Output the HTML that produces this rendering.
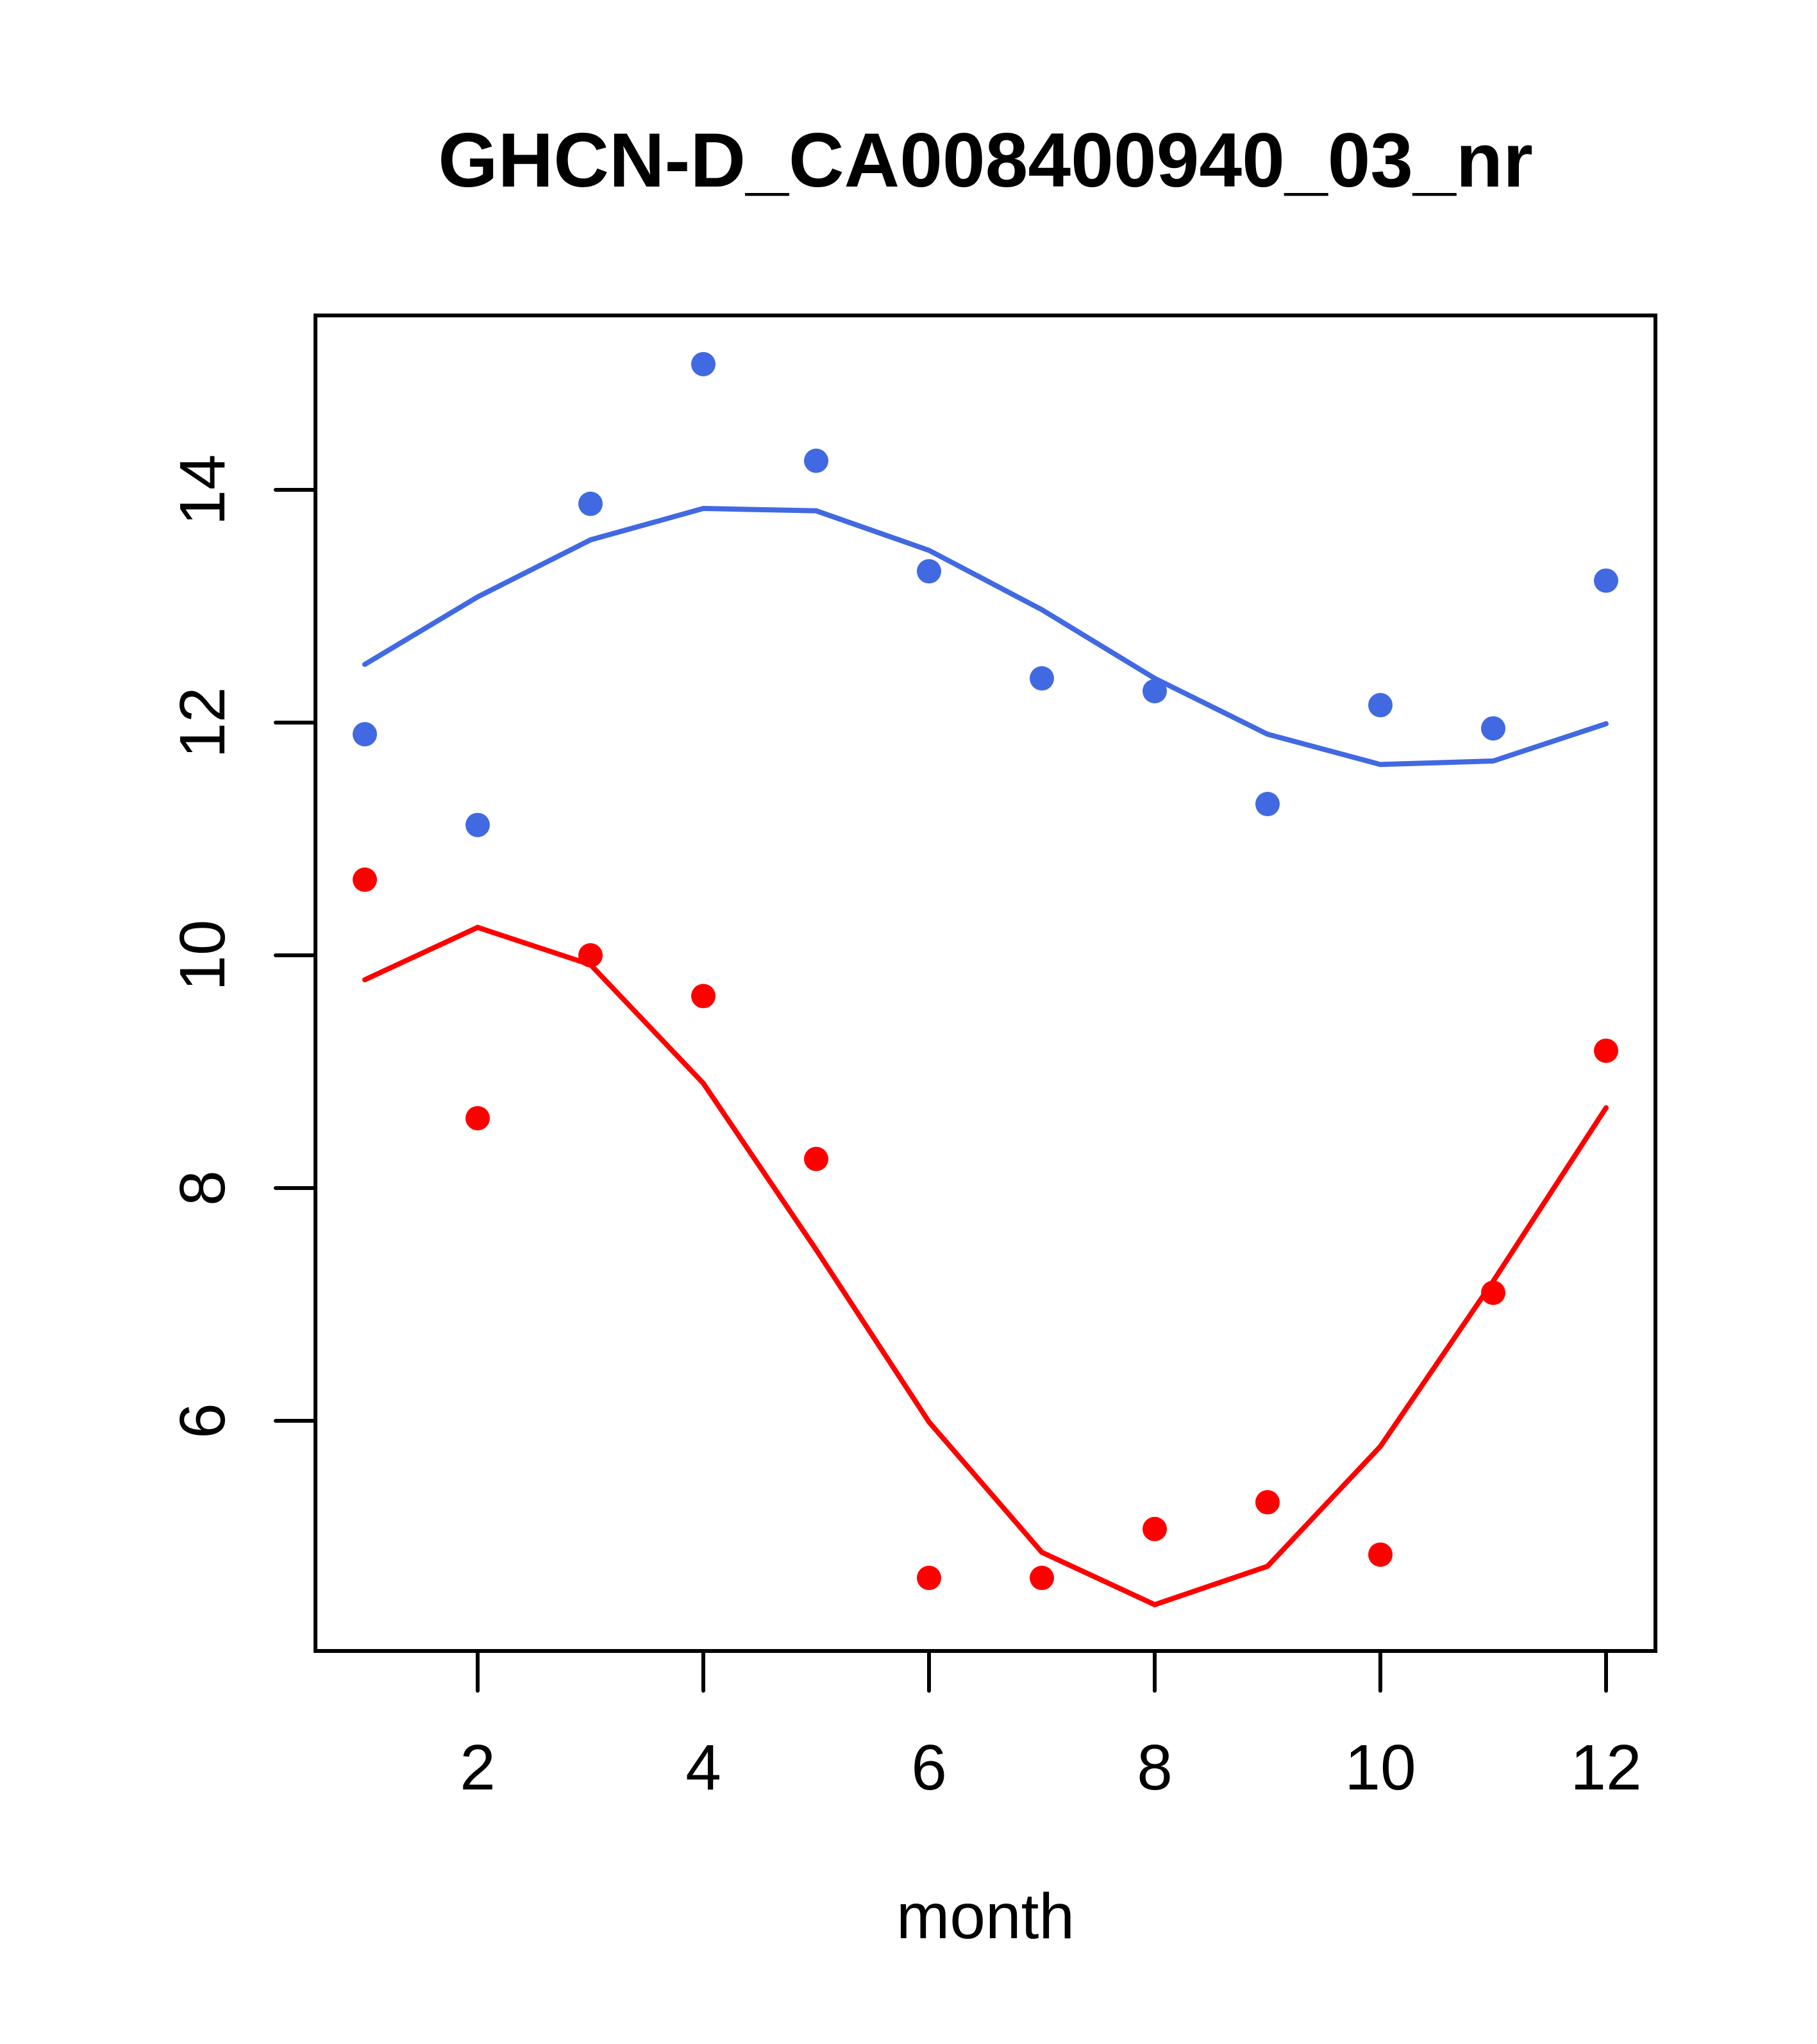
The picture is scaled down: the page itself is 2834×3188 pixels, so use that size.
<!DOCTYPE html>
<html><head><meta charset="utf-8"><style>
html,body{margin:0;padding:0;background:#fff;}
svg{display:block;font-family:"Liberation Sans",sans-serif;}
</style></head><body>
<svg id="chart" width="2834" height="3188" viewBox="0 0 2834 3188">
<text x="1537" y="291" text-anchor="middle" font-weight="bold" font-size="120">GHCN-D_CA008400940_03_nr</text>
<rect x="492" y="492" width="2090" height="2083" fill="none" stroke="#000" stroke-width="6"/>
<g id="axes"></g>
<g id="marks"></g>
<text x="1537" y="3023" text-anchor="middle" font-size="100">month</text>
</svg>
<script>
const months=[1,2,3,4,5,6,7,8,9,10,11,12];
const bluePoints=[11.9,11.12,13.88,15.08,14.25,13.3,12.38,12.27,11.3,12.15,11.95,13.22];
const blueLine=[12.5,13.08,13.57,13.84,13.82,13.48,12.97,12.38,11.9,11.64,11.67,11.99];
const redPoints=[10.65,8.6,10.0,9.65,8.25,4.65,4.65,5.07,5.3,4.85,7.1,9.18];
const redLine=[9.79,10.24,9.92,8.9,7.47,5.99,4.87,4.42,4.75,5.78,7.2,8.69];
const xTicks=[2,4,6,8,10,12];
const yTicks=[6,8,10,12,14];
const NS='http://www.w3.org/2000/svg';
function xs(m){return 569+(m-1)*176;}
function ys(v){return 764+(14-v)*181.5;}
const axes=document.getElementById('axes'),marks=document.getElementById('marks');
function mk(tag,attrs,parent){const e=document.createElementNS(NS,tag);for(const k in attrs)e.setAttribute(k,attrs[k]);parent.appendChild(e);return e;}
xTicks.forEach(t=>{
  const l=mk('line',{x1:xs(t),x2:xs(t),y1:2575,y2:2637,stroke:'#000','stroke-width':6,'stroke-linecap':'round'},axes);
  
  
  const tx=mk('text',{x:xs(t),y:2791,'text-anchor':'middle','font-size':100},axes);
  tx.textContent=t;
  
  
});
yTicks.forEach(t=>{
  const l=mk('line',{x1:430,x2:492,y1:ys(t),y2:ys(t),stroke:'#000','stroke-width':6,'stroke-linecap':'round'},axes);
  
  
  const tx=mk('text',{x:0,y:0,'text-anchor':'middle','font-size':100,transform:'translate(350,'+ys(t)+') rotate(-90)'},axes);
  tx.textContent=t;
  
  
});
function line(vals,color,name){
  const p=mk('polyline',{points:vals.map((v,i)=>xs(months[i])+','+ys(v)).join(' '),fill:'none',stroke:color,'stroke-width':8,'stroke-linecap':'round'},marks);
  
  
}
function pts(vals,color,name){
  vals.forEach((v,i)=>{
    const c=mk('circle',{cx:xs(months[i]),cy:ys(v),r:19,fill:color},marks);
    
    
  });
}
line(blueLine,'#4169E1','blue-smooth-line');
line(redLine,'#FF0000','red-smooth-line');
pts(bluePoints,'#4169E1','blue-point');
pts(redPoints,'#FF0000','red-point');
</script>
</body></html>
